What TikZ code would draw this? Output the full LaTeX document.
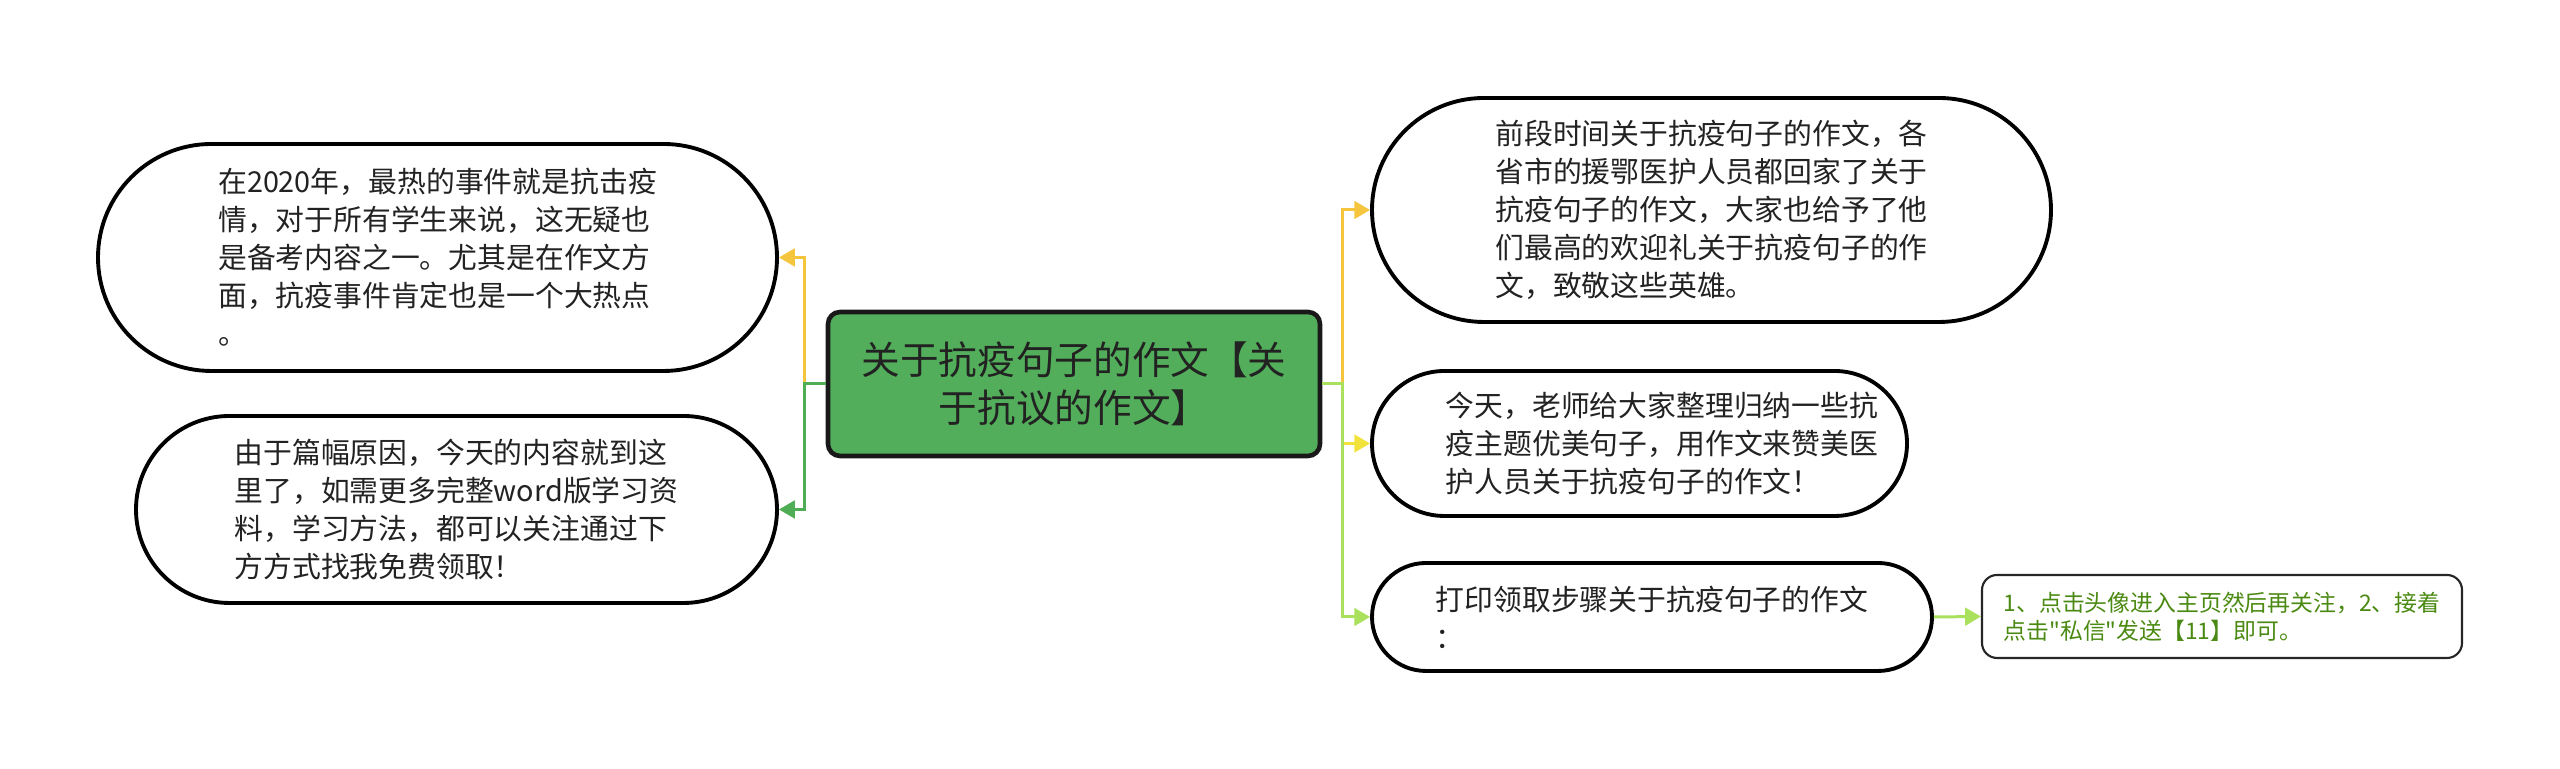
\documentclass[tikz,border=0pt]{standalone}
\usepackage{fontspec}
\setmainfont{Noto Sans CJK SC}
\newfontfamily\plainquotes{Noto Sans CJK SC}
\usetikzlibrary{arrows.meta,shapes.misc}

\definecolor{rootgreen}{HTML}{52AE5A}
\definecolor{lineorange}{HTML}{F5C53E}
\definecolor{linegreen}{HTML}{4EAD55}
\definecolor{lineyellow}{HTML}{F2E33C}
\definecolor{linelime}{HTML}{A9E05C}
\definecolor{tiptext}{HTML}{4B8A12}
\definecolor{bodytext}{HTML}{222222}

\begin{document}
\begin{tikzpicture}[>={Triangle[length=4.5pt,width=5pt]},
    topic/.style={rounded rectangle, draw=black, line width=1.1pt, fill=white,
        text=bodytext, align=left, inner sep=0pt,
        font=\fontsize{8.2pt}{10.8pt}\selectfont},
    rootbox/.style={draw=black!90, line width=1.3pt, fill=rootgreen, rounded corners=1.2mm,
        text=bodytext, align=center, minimum width=4.92cm, minimum height=1.44cm,
        font=\fontsize{11pt}{13.6pt}\selectfont},
    tipbox/.style={draw=black!85, line width=0.6pt, fill=white, rounded corners=1.5mm,
        text=tiptext, align=left, minimum width=4.8cm, minimum height=0.83cm,
        font=\plainquotes\fontsize{6.5pt}{8pt}\selectfont},
    link/.style={line width=0.85pt, ->}]

    \useasboundingbox (0,0) rectangle (25.6,7.69);

    % central topic
    \node[rootbox] (root) at (10.74,3.85) {关于抗疫句子的作文【关\\于抗议的作文】};

    % left side
    \node[topic, minimum width=6.79cm, minimum height=2.27cm] (covid) at (4.375,5.115)
        {在2020年，最热的事件就是抗击疫\\情，对于所有学生来说，这无疑也\\是备考内容之一。尤其是在作文方\\面，抗疫事件肯定也是一个大热点\\。};
    \node[topic, minimum width=6.41cm, minimum height=1.87cm] (space) at (4.565,2.595)
        {由于篇幅原因，今天的内容就到这\\里了，如需更多完整word版学习资\\料，学习方法，都可以关注通过下\\方方式找我免费领取！};

    % right side
    \node[topic, minimum width=6.79cm, minimum height=2.24cm] (heroes) at (17.115,5.59)
        {前段时间关于抗疫句子的作文，各\\省市的援鄂医护人员都回家了关于\\抗疫句子的作文，大家也给予了他\\们最高的欢迎礼关于抗疫句子的作\\文，致敬这些英雄。};
    \node[topic, minimum width=5.35cm, minimum height=1.45cm] (teacher) at (16.395,3.255)
        {\hspace*{0.45cm}今天，老师给大家整理归纳一些抗\\\hspace*{0.45cm}疫主题优美句子，用作文来赞美医\\\hspace*{0.45cm}护人员关于抗疫句子的作文！};
    \node[topic, minimum width=5.6cm, minimum height=1.08cm] (print) at (16.52,1.52)
        {打印领取步骤关于抗疫句子的作文\\：};
    \node[tipbox] (steps) at (22.22,1.525)
        {1、点击头像进入主页然后再关注，2、接着\\点击"私信"发送【11】即可。};

    % connectors
    \draw[link, lineorange] (root.west) -- ++(-0.21,0) |- (covid.east);
    \draw[link, linegreen] (root.west) -- ++(-0.21,0) |- (space.east);
    \draw[link, lineorange] (root.east) -- ++(0.2,0) |- (heroes.west);
    \draw[link, lineyellow] (root.east) -- ++(0.2,0) |- (teacher.west);
    \draw[link, linelime] (root.east) -- ++(0.2,0) |- (print.west);
    \draw[link, linelime] (print.east) -- (steps.west);
\end{tikzpicture}
\end{document}
